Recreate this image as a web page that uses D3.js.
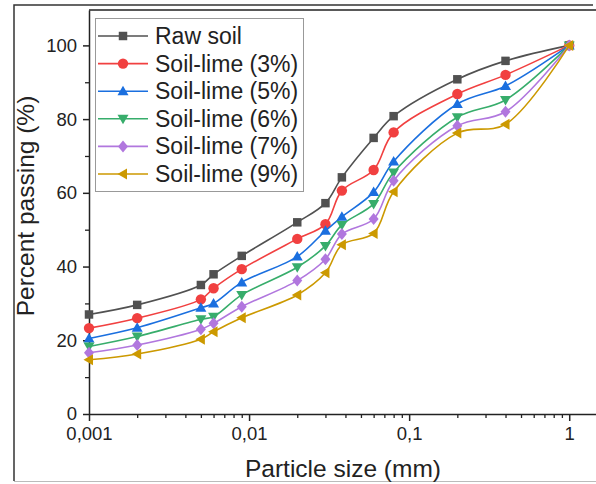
<!DOCTYPE html>
<html>
<head>
<meta charset="utf-8">
<script src="https://cdn.jsdelivr.net/npm/d3@7"></script>
<style>
  body { margin: 0; background: #fff; }
  svg { display: block; font-family: "Liberation Sans", Arial, sans-serif; }
</style>
</head>
<body>
<div id="chart"></div>
<script>
// particle sizes (mm) and percent passing for each mix
const sizes = [0.001, 0.002, 0.005, 0.006, 0.009, 0.02, 0.03, 0.038, 0.06, 0.08, 0.2, 0.4, 1];
const rawSoil = [27.0, 29.6, 35.0, 37.9, 42.9, 52.0, 57.2, 64.2, 74.9, 80.8, 90.8, 95.8, 100];
const lime3 = [23.3, 26.0, 31.1, 34.1, 39.3, 47.5, 51.5, 60.6, 66.2, 76.4, 86.8, 92.0, 100];
const lime5 = [20.5, 23.4, 28.8, 30.0, 35.7, 42.7, 49.7, 53.5, 60.2, 68.5, 84.1, 89.0, 100];
const lime6 = [18.3, 21.0, 25.7, 26.4, 32.3, 39.8, 45.6, 51.3, 57.0, 65.5, 80.5, 85.2, 100];
const lime7 = [16.6, 18.7, 23.0, 24.6, 29.1, 36.2, 42.0, 48.8, 52.9, 63.3, 78.2, 82.0, 100];
const lime9 = [14.7, 16.3, 20.3, 22.3, 26.1, 32.3, 38.3, 45.9, 49.0, 60.3, 76.2, 78.6, 100];

const seriesNames = ['Raw soil', 'Soil-lime (3%)', 'Soil-lime (5%)', 'Soil-lime (6%)', 'Soil-lime (7%)', 'Soil-lime (9%)'];
const seriesValues = [rawSoil, lime3, lime5, lime6, lime7, lime9];

const xTicks = [0.001, 0.01, 0.1, 1];
const xTickLabels = ['0,001', '0,01', '0,1', '1'];
const yTicks = [0, 20, 40, 60, 80, 100];

const colors = ['#515151', '#F14040', '#1A6FDF', '#37AD6B', '#B177DE', '#CC9900'];
const shapes = ['square', 'circle', 'up', 'down', 'diamond', 'left'];

const W = 596, H = 484;
const plotL = 89, plotR = 596, plotT = 10, plotB = 414;

const svg = d3.select('#chart').append('svg')
  .attr('width', W)
  .attr('height', H);

// outer figure frame
svg.append('path')
  .attr('d', `M14,481 L14,5 L593,5`)
  .attr('fill', 'none')
  .attr('stroke', '#333')
  .attr('stroke-width', 1.5);
svg.append('line')
  .attr('x1', 14).attr('x2', 596).attr('y1', 481.5).attr('y2', 481.5)
  .attr('stroke', '#bbb').attr('stroke-width', 1);

const x = d3.scaleLog().domain([0.001, 1.47]).range([plotL, plotR]);
const y = d3.scaleLinear().domain([0, 109.6]).range([plotB, plotT]);

// top border of plot
svg.append('line')
  .attr('x1', plotL).attr('x2', plotR).attr('y1', plotT).attr('y2', plotT)
  .attr('stroke', '#222').attr('stroke-width', 1.5);

// minor ticks
const xMinor = [];
[0.001, 0.01, 0.1, 1].forEach(d => {
  for (let k = 2; k <= 9; k++) if (d * k <= 1.47) xMinor.push(d * k);
});
svg.append('g')
  .attr('transform', `translate(0,${plotB})`)
  .call(d3.axisBottom(x).tickValues(xMinor).tickSize(4).tickFormat(''))
  .call(g => g.select('.domain').remove())
  .call(g => g.selectAll('line').attr('stroke', '#222').attr('stroke-width', 1.3));

svg.append('g')
  .attr('transform', `translate(${plotL},0)`)
  .call(d3.axisLeft(y).tickValues([10, 30, 50, 70, 90]).tickSize(4).tickFormat(''))
  .call(g => g.select('.domain').remove())
  .call(g => g.selectAll('line').attr('stroke', '#222').attr('stroke-width', 1.3));

// major axes
const xAxis = svg.append('g')
  .attr('transform', `translate(0,${plotB})`)
  .call(d3.axisBottom(x).tickValues(xTicks).tickSize(7).tickPadding(6)
    .tickFormat((d, i) => xTickLabels[i]).tickSizeOuter(0));
xAxis.select('.domain').attr('stroke', '#222').attr('stroke-width', 1.5);
xAxis.selectAll('line').attr('stroke', '#222').attr('stroke-width', 1.5);
xAxis.selectAll('text').attr('font-size', 18.5).attr('fill', '#222')
  .attr('font-family', '"Liberation Sans", Arial, sans-serif');

const yAxis = svg.append('g')
  .attr('transform', `translate(${plotL},0)`)
  .call(d3.axisLeft(y).tickValues(yTicks).tickSize(6).tickPadding(6).tickSizeOuter(0));
yAxis.select('.domain').attr('stroke', '#222').attr('stroke-width', 1.5);
yAxis.selectAll('line').attr('stroke', '#222').attr('stroke-width', 1.5);
yAxis.selectAll('text').attr('font-size', 18.5).attr('fill', '#222')
  .attr('font-family', '"Liberation Sans", Arial, sans-serif');

// axis titles
svg.append('text')
  .attr('x', 343).attr('y', 477)
  .attr('text-anchor', 'middle')
  .attr('font-size', 24.5)
  .attr('fill', '#222')
  .text('Particle size (mm)');

svg.append('text')
  .attr('transform', 'translate(34,206) rotate(-90)')
  .attr('text-anchor', 'middle')
  .attr('font-size', 24.5)
  .attr('fill', '#222')
  .text('Percent passing (%)');

// marker shapes
function markerPath(shape) {
  if (shape === 'square') return d3.symbol(d3.symbolSquare, 72)();
  if (shape === 'circle') return d3.symbol(d3.symbolCircle, 85)();
  if (shape === 'diamond') return 'M0,-6L5,0L0,6L-5,0Z';
  // triangles
  return 'M0,-5.5L5.5,4L-5.5,4Z';
}
function markerRotate(shape) {
  if (shape === 'down') return 180;
  if (shape === 'left') return -90;
  return 0;
}

const line = d3.line()
  .x(d => x(d.size))
  .y(d => y(d.value))
  .curve(d3.curveCatmullRom.alpha(0.5));

seriesValues.forEach((vals, si) => {
  const pts = sizes.map((s, i) => ({ size: s, value: vals[i] }));
  const g = svg.append('g');
  g.append('path')
    .datum(pts)
    .attr('fill', 'none')
    .attr('stroke', colors[si])
    .attr('stroke-width', 1.6)
    .attr('d', line);
  g.selectAll('path.mk')
    .data(pts)
    .enter()
    .append('path')
    .attr('class', 'mk')
    .attr('d', markerPath(shapes[si]))
    .attr('transform', d => `translate(${x(d.size)},${y(d.value)}) rotate(${markerRotate(shapes[si])})`)
    .attr('fill', colors[si]);
});

// legend
const legend = svg.append('g');
legend.append('rect')
  .attr('x', 95.5).attr('y', 18.5)
  .attr('width', 208).attr('height', 173)
  .attr('fill', '#fff')
  .attr('stroke', '#999')
  .attr('stroke-width', 1);

seriesNames.forEach((name, i) => {
  const ly = 36 + i * 27.6;
  legend.append('line')
    .attr('x1', 98).attr('x2', 148)
    .attr('y1', ly).attr('y2', ly)
    .attr('stroke', colors[i])
    .attr('stroke-width', 1.6);
  legend.append('path')
    .attr('d', markerPath(shapes[i]))
    .attr('transform', `translate(123,${ly}) rotate(${markerRotate(shapes[i])})`)
    .attr('fill', colors[i]);
  legend.append('text')
    .attr('x', 155).attr('y', ly + 8)
    .attr('font-size', 23)
    .attr('fill', '#222')
    .text(name);
});
</script>
</body>
</html>
